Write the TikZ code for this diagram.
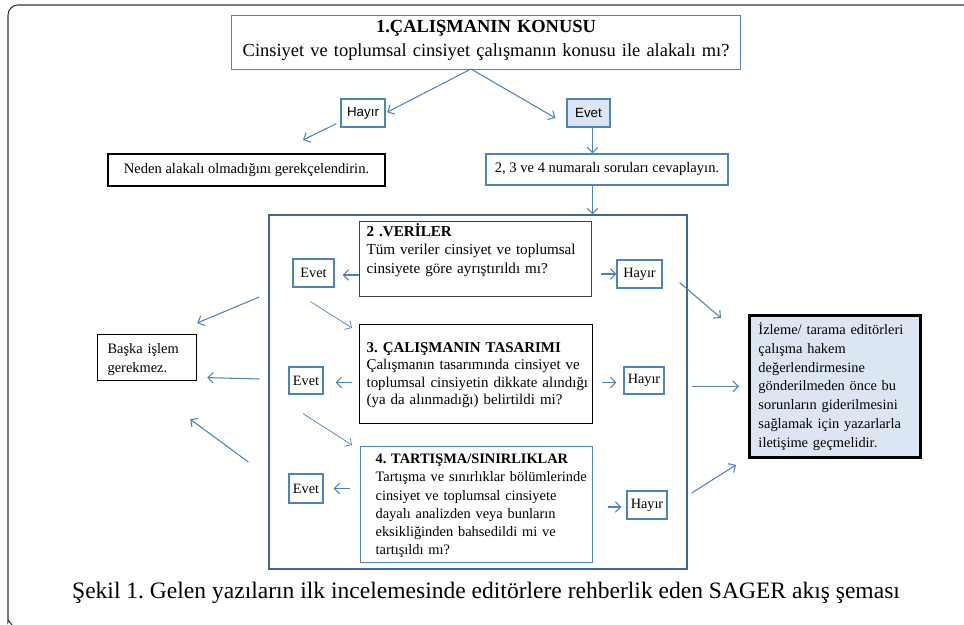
\documentclass[tikz,border=0pt]{standalone}
\usepackage{fontspec}
\setmainfont{Liberation Serif}
\newfontfamily\arialfont{Liberation Sans}
\usepackage{xcolor}
\usepackage{tikz}
\usetikzlibrary{arrows.meta,calc}
\frenchspacing

\definecolor{lineblue}{HTML}{4F81BD}
\definecolor{boxblue}{HTML}{DCE6F2}
\definecolor{framegray}{HTML}{333333}

\begin{document}
\begin{tikzpicture}[x=0.02cm, y=-0.02cm,
  arr/.style={-{Straight Barb[length=3pt,width=6pt]}, draw=lineblue, line width=0.6pt},
  thinarr/.style={arr, line width=0.4pt},
  ans/.style={draw=lineblue, line width=0.7pt, inner sep=0pt, font=\fontsize{8.1}{10}\selectfont},
  qbox/.style={draw, line width=0.7pt, anchor=north west, inner ysep=0pt, align=left, font=\fontsize{8.6}{10.4}\selectfont}]
\useasboundingbox (0,0) rectangle (964,625);

% outer frame
\draw[framegray, line width=0.6pt] (964,5) [rounded corners=0.2cm] -| (8,612) [sharp corners] .. controls (8,620) .. (12,625);

% 1. question
\node [draw=lineblue, line width=0.7pt, anchor=north west, inner xsep=0.1cm, inner ysep=0pt, text width=9.98cm,
text height=0.34cm, text depth=0.74cm, align=center, font=\fontsize{10.5}{13.4}\selectfont] (konu) at (231,15)
{\textbf{1.ÇALIŞMANIN KONUSU}\\Cinsiyet ve toplumsal cinsiyet çalışmanın konusu ile alakalı mı?};

\node [ans, minimum width=0.88cm, minimum height=0.56cm, font=\arialfont\fontsize{7.6}{9}\selectfont] (hayirA) at (363,113) {Hayır};
\node [ans, fill=boxblue, minimum width=0.86cm, minimum height=0.56cm, font=\arialfont\fontsize{7.6}{9}\selectfont] (evetA) at (588.5,113) {Evet};

\node [draw, line width=0.7pt, inner sep=0pt, minimum width=5.54cm, minimum height=0.64cm, font=\fontsize{8.3}{10}\selectfont] (neden) at (246.5,170) {Neden alakalı olmadığını gerekçelendirin.};
\node [draw=lineblue, line width=0.7pt, inner sep=0pt, minimum width=4.84cm, minimum height=0.62cm, font=\fontsize{8.3}{10}\selectfont] (sorular) at (607,169.5) {2, 3 ve 4 numaralı soruları cevaplayın.};

\coordinate (split) at (471,69);
\coordinate (nedenend) at (303,140);
\draw[arr, shorten >=1pt] (split) -- (hayirA.east);
\draw[arr] (split) -- ([shift={(-11,5)}]evetA.west);
\draw[arr] ([shift={(-4,-4)}]hayirA.south west) -- (nedenend);
\draw[arr] ([shift={(4,0)}]evetA.south) -- ([shift={(4,0)}]evetA.south |- sorular.north);

% questions 2-4
\node [draw=lineblue!80!black, line width=0.8pt, inner sep=0pt, minimum width=8.36cm, minimum height=7.08cm] (blok) at (478,392) {};
\draw[arr] ([shift={(4,0)}]evetA.south |- sorular.south) -- ([shift={(4,0)}]evetA.south |- blok.north);

\node [qbox, draw=black!75, inner xsep=0.14cm, text width=4.36cm, text height=0.3cm, text depth=1.2cm] (veri) at (359,221)
{\textbf{2 .VERİLER}\\\mbox{Tüm veriler cinsiyet ve toplumsal}\\\mbox{cinsiyete göre ayrıştırıldı mı?}};
\node [qbox, inner xsep=0.14cm, text width=4.38cm, text height=0.56cm, text depth=1.42cm, font=\fontsize{8.5}{9.8}\selectfont] (tasarim) at (359,324)
{\textbf{3. ÇALIŞMANIN TASARIMI}\\\mbox{Çalışmanın tasarımında cinsiyet ve}\\\mbox{toplumsal cinsiyetin dikkate alındığı}\\\mbox{(ya da alınmadığı) belirtildi mi?}};
\node [qbox, draw=lineblue, inner xsep=0.3cm, text width=4.04cm, text height=0.34cm, text depth=1.98cm, font=\fontsize{8.2}{10.4}\selectfont] (tartisma) at (360,446)
{\mbox{\textbf{4. TARTIŞMA/SINIRLIKLAR}}\\\mbox{Tartışma ve sınırlıklar bölümlerinde}\\\mbox{cinsiyet ve toplumsal cinsiyete}\\\mbox{dayalı analizden veya bunların}\\\mbox{eksikliğinden bahsedildi mi ve}\\tartışıldı mı?};

\node [ans, minimum width=0.82cm, minimum height=0.56cm] (evetB) at (313.5,273) {Evet};
\node [ans, minimum width=0.9cm, minimum height=0.56cm] (hayirB) at (639.5,274) {Hayır};
\node [ans, minimum width=0.68cm, minimum height=0.54cm] (evetC) at (306,380.5) {Evet};
\node [ans, minimum width=0.8cm, minimum height=0.54cm] (hayirC) at (644,380.5) {Hayır};
\node [ans, minimum width=0.68cm, minimum height=0.58cm] (evetD) at (306,488.5) {Evet};
\node [ans, minimum width=0.8cm, minimum height=0.56cm] (hayirD) at (647,505) {Hayır};

\draw[arr, shorten >=0.16cm] ([shift={(0,2)}]evetB.east -| veri.west) -- ([shift={(0,2)}]evetB.east);
\draw[arr, shorten <=0.18cm] (hayirB.west -| veri.east) -- (hayirB.west);
\draw[arr, shorten <=0.14cm, shorten >=0.24cm] ([shift={(0,2)}]evetC.east -| tasarim.west) -- ([shift={(0,2)}]evetC.east);
\draw[arr, shorten <=0.18cm, shorten >=0.14cm] ([shift={(0,2)}]hayirC.west -| tasarim.east) -- ([shift={(0,2)}]hayirC.west);
\draw[arr, shorten <=0.2cm, shorten >=0.2cm] (evetD.east -| tartisma.west) -- (evetD.east);
\draw[arr, shorten <=0.3cm, shorten >=0.1cm] ([shift={(0,2)}]hayirD.west -| tartisma.east) -- ([shift={(0,2)}]hayirD.west);

\draw[thinarr] ([shift={(-3,14)}]evetB.south) -- ([shift={(-7,4)}]tasarim.north west);
\draw[thinarr] ([shift={(-3,19)}]evetC.south) -- ([shift={(-8,-1)}]tartisma.north west);

% yes: nothing else
\node [draw, line width=0.7pt, anchor=north west, inner xsep=0.2cm, inner ysep=0pt, text width=1.58cm, text height=0.38cm,
text depth=0.54cm, align=left, font=\fontsize{8.2}{10.8}\selectfont] (baska) at (97,334) {Başka işlem\\gerekmez.};

\coordinate (evetBout) at ($(blok.west)+(-9,-95)$);
\coordinate (evetCout) at ($(blok.west)+(-9,-13)$);
\coordinate (evetDout) at ($(blok.west)+(-20,70)$);
\draw[arr] (evetBout) -- ([shift={(0,-11)}]baska.north east);
\draw[arr] (evetCout) -- ([shift={(10,20)}]baska.east);
\draw[arr] (evetDout) -- ([shift={(-7,38)}]baska.south east);

% no: back to the authors
\node [draw, line width=1.7pt, fill=boxblue, anchor=north west, inner xsep=0.18cm, inner ysep=0pt, text width=3.06cm, text height=0.38cm,
text depth=2.46cm, align=left, font=\fontsize{8.2}{10.7}\selectfont] (editor) at (748,314)
{İzleme/ tarama editörleri\\çalışma hakem\\değerlendirmesine\\gönderilmeden önce bu\\sorunların giderilmesini\\sağlamak için yazarlarla\\iletişime geçmelidir.};

\coordinate (hayirDout) at ($(blok.east)+(4,101)$);
\draw[arr] ([shift={(17,-6)}]hayirB.south east) -- ([shift={(-27,4)}]editor.north west);
\draw[arr, shorten <=0.08cm, shorten >=0.18cm] (editor.west -| blok.east) -- (editor.west);
\draw[arr] (hayirDout) -- ([shift={(-12,6)}]editor.south west);

\node [anchor=base, font=\fontsize{13.4}{16}\selectfont] (baslik) at (486,598)
{Şekil 1. Gelen yazıların ilk incelemesinde editörlere rehberlik eden SAGER akış şeması};
\end{tikzpicture}
\end{document}
